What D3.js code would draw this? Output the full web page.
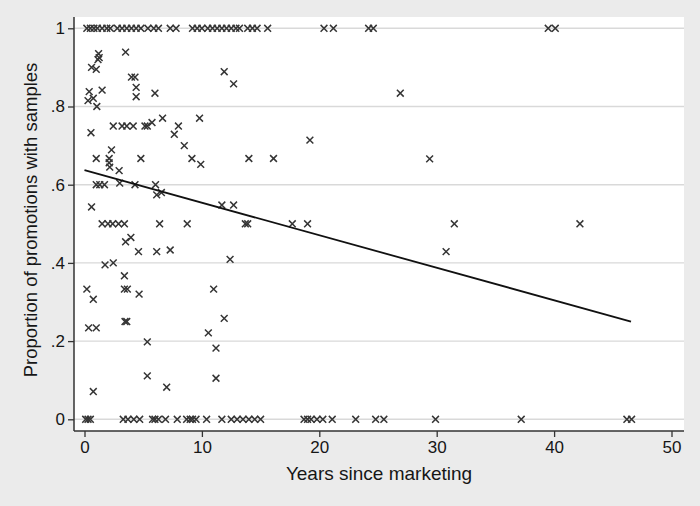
<!DOCTYPE html>
<html>
<head>
<meta charset="utf-8">
<script src="https://cdn.jsdelivr.net/npm/d3@7"></script>
<style>
  body { margin: 0; background: #ebebeb; }
  svg { display: block; font-family: "Liberation Sans", Arial, sans-serif; }
</style>
</head>
<body>
<div id="chart"></div>
<script>
// scatter of promotions with samples vs years since marketing, plus linear fit

var yearsTop = [0.2, 0.5, 0.8, 1.1, 1.5, 1.9, 2.2, 2.8, 3.2, 3.6, 4.0, 4.4, 4.8, 5.4, 5.9, 6.3,
	7.3, 7.8, 9.2, 9.6, 10.0, 10.5, 10.9, 11.3, 11.7, 12.1, 12.5, 12.9, 13.2,
	13.9, 14.3, 14.7, 15.6, 20.4, 21.2, 24.2, 24.6, 39.5, 40.1];

var yearsZero = [0.1, 0.3, 0.5, 3.3, 3.7, 4.2, 4.7, 5.8, 6.0, 6.3, 6.9, 7.9, 8.7, 9.0, 9.2, 9.5,
	10.4, 11.7, 12.5, 13.0, 13.5, 14.0, 14.5, 15.0, 18.7, 19.0, 19.3, 19.8, 20.3, 21.1,
	23.1, 24.8, 25.5, 29.9, 37.2, 46.2, 46.6];

var yearsMid = [1.15, 1.2, 1.25, 3.5, 0.6, 1.0, 11.9, 4.0, 4.3, 12.7, 0.4, 1.5, 4.4, 4.4, 6.0,
	0.3, 0.75, 1.05, 0.55, 2.45, 3.2, 3.6, 4.15, 5.15, 5.35, 5.75, 8.0, 7.65, 6.65, 9.8,
	8.5, 2.3, 2.1, 2.1, 2.15, 1.0, 2.95, 4.8, 9.15, 9.9, 14.0, 16.1,
	1.0, 1.3, 1.7, 3.0, 4.3, 6.05, 6.15, 6.55, 0.6, 11.7, 12.7,
	1.5, 2.0, 2.4, 2.9, 3.4, 6.4, 8.75, 13.7, 13.9, 17.7, 19.0, 31.5, 42.2,
	19.2, 26.9, 29.4, 30.8, 3.5, 3.95, 4.6, 6.15, 7.3, 12.4, 1.75, 2.45, 3.4,
	0.2, 3.4, 3.65, 11.0, 0.75, 4.65, 0.35, 1.0, 3.45, 3.6, 11.9, 10.55,
	5.35, 11.2, 5.35, 11.2, 7.0, 0.75];

var shareMid = [0.92, 0.935, 0.925, 0.939, 0.90, 0.895, 0.889, 0.875, 0.875, 0.858, 0.838, 0.842, 0.849, 0.825, 0.834,
	0.815, 0.821, 0.80, 0.733, 0.75, 0.75, 0.75, 0.75, 0.75, 0.75, 0.759, 0.75, 0.729, 0.77, 0.77,
	0.70, 0.689, 0.667, 0.656, 0.645, 0.667, 0.636, 0.667, 0.667, 0.652, 0.667, 0.667,
	0.6, 0.6, 0.6, 0.604, 0.6, 0.6, 0.574, 0.58, 0.543, 0.548, 0.548,
	0.5, 0.5, 0.5, 0.5, 0.5, 0.5, 0.5, 0.5, 0.5, 0.5, 0.5, 0.5, 0.5,
	0.714, 0.834, 0.666, 0.429, 0.454, 0.465, 0.429, 0.429, 0.433, 0.409, 0.395, 0.40, 0.367,
	0.333, 0.333, 0.333, 0.333, 0.307, 0.32, 0.234, 0.234, 0.25, 0.25, 0.258, 0.221,
	0.198, 0.182, 0.111, 0.105, 0.082, 0.071];

var fitYears = [0, 46.55];
var fitShare = [0.637, 0.25];

var xTicks = [0, 10, 20, 30, 40, 50];
var yTicks = [0, 0.2, 0.4, 0.6, 0.8, 1];
var yTickLabels = ["0", ".2", ".4", ".6", ".8", "1"];

var W = 700, H = 506;
var plot = { left: 74, right: 684, top: 17, bottom: 431 };

var x = d3.scaleLinear().domain([0, 50]).range([84.5, 671.5]);
var y = d3.scaleLinear().domain([0, 1]).range([419.3, 28.3]);

var svg = d3.select("#chart").append("svg")
	.attr("width", W)
	.attr("height", H);

svg.append("rect")
	.attr("width", W).attr("height", H)
	.attr("fill", "#ebebeb");

svg.append("rect")
	.attr("x", plot.left)
	.attr("y", plot.top)
	.attr("width", plot.right - plot.left)
	.attr("height", plot.bottom - plot.top)
	.attr("fill", "#ffffff");

// gridlines
svg.append("g")
	.selectAll("line")
	.data(yTicks)
	.join("line")
	.attr("x1", plot.left)
	.attr("x2", plot.right)
	.attr("y1", function(d) { return y(d); })
	.attr("y2", function(d) { return y(d); })
	.attr("stroke", "#d9d9d9")
	.attr("stroke-width", 1.4);

// axes
var xAxis = d3.axisBottom(x)
	.tickValues(xTicks)
	.tickSize(6)
	.tickPadding(4)
	.tickFormat(d3.format("d"));

var yAxis = d3.axisLeft(y)
	.tickValues(yTicks)
	.tickSize(6)
	.tickPadding(3)
	.tickFormat(function(d, i) { return yTickLabels[i]; });

var gx = svg.append("g")
	.attr("transform", "translate(0," + plot.bottom + ")")
	.call(xAxis);

var gy = svg.append("g")
	.attr("transform", "translate(" + plot.left + ",0)")
	.call(yAxis);

gx.select(".domain").attr("d", "M" + plot.left + ",0H" + plot.right);
gy.select(".domain").attr("d", "M0," + plot.top + "V" + plot.bottom);

[gx, gy].forEach(function(g) {
	g.select(".domain").attr("stroke", "#333").attr("stroke-width", 1.5);
	g.selectAll(".tick line").attr("stroke", "#333").attr("stroke-width", 1.3);
	g.selectAll(".tick text")
		.attr("fill", "#161616")
		.style("font-size", "17px")
		.style("font-family", "Liberation Sans, Arial, sans-serif");
});

// axis titles
svg.append("text")
	.attr("x", 379)
	.attr("y", 480)
	.attr("text-anchor", "middle")
	.attr("fill", "#161616")
	.style("font-size", "19px")
	.text("Years since marketing");

svg.append("text")
	.attr("transform", "translate(37,220) rotate(-90)")
	.attr("text-anchor", "middle")
	.attr("fill", "#161616")
	.style("font-size", "18.5px")
	.text("Proportion of promotions with samples");

// points
var pts = [];
yearsTop.forEach(function(v) { pts.push([v, 1]); });
yearsZero.forEach(function(v) { pts.push([v, 0]); });
yearsMid.forEach(function(v, i) { pts.push([v, shareMid[i]]); });

var s = 3.4;
svg.append("g")
	.selectAll("path")
	.data(pts)
	.join("path")
	.attr("transform", function(d) { return "translate(" + x(d[0]) + "," + y(d[1]) + ")"; })
	.attr("d", "M" + (-s) + "," + (-s) + "L" + s + "," + s + "M" + (-s) + "," + s + "L" + s + "," + (-s))
	.attr("fill", "none")
	.attr("stroke", "#353535")
	.attr("stroke-width", 1.5);

// fitted line
var line = d3.line()
	.x(function(d) { return x(d[0]); })
	.y(function(d) { return y(d[1]); });

svg.append("path")
	.datum(fitYears.map(function(v, i) { return [v, fitShare[i]]; }))
	.attr("d", line)
	.attr("fill", "none")
	.attr("stroke", "#111")
	.attr("stroke-width", 1.8);
</script>
</body>
</html>
